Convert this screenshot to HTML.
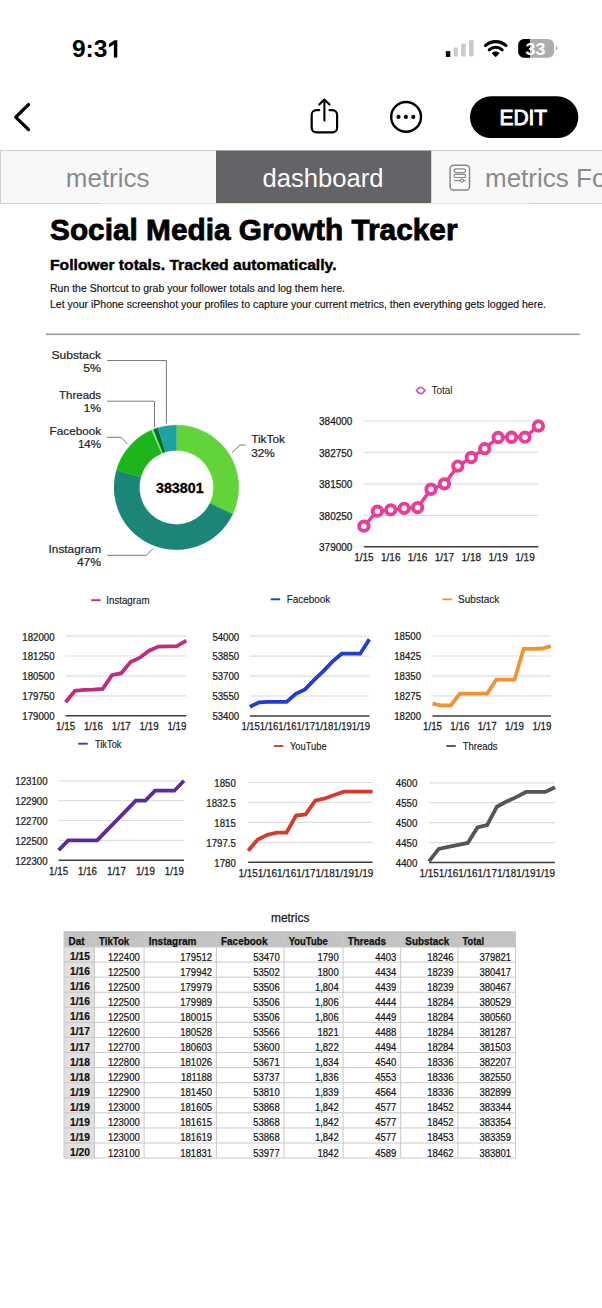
<!DOCTYPE html>
<html><head><meta charset="utf-8"><style>
html,body{margin:0;padding:0;background:#fff;width:602px;height:1308px;overflow:hidden}
svg{display:block}
text{font-family:"Liberation Sans", sans-serif}
</style></head><body>
<svg width="602" height="1308" viewBox="0 0 602 1308">
<text x="71.9" y="57.4" font-size="23.4" font-weight="bold" fill="#000" textLength="35.6" lengthAdjust="spacingAndGlyphs">9:3</text>
<path d="M113.9,57.4 V44.5 L108.9,47.5 V44.1 L114.4,40.2 H117.3 V57.4 Z" fill="#000"/>
<rect x="445.8" y="51.0" width="4.5" height="6.1" rx="1.2" fill="#000"/>
<rect x="453.6" y="47.6" width="4.3" height="8.8" rx="1.1" fill="#c9c9cb"/>
<rect x="461.2" y="43.6" width="4.5" height="12.9" rx="1.1" fill="#c9c9cb"/>
<rect x="469.0" y="40.0" width="4.6" height="16.4" rx="1.1" fill="#c9c9cb"/>
<path d="M485.40,45.56 A15.4,15.4 0 0 1 506.00,45.56 M489.21,49.79 A9.7,9.7 0 0 1 502.19,49.79" fill="none" stroke="#000" stroke-width="3.1" stroke-linecap="round"/>
<path d="M495.7,56.4 L492.64,53.23 A4.4,4.4 0 0 1 498.76,53.23 Z" fill="#000" stroke="#000" stroke-width="1.2" stroke-linejoin="round"/>
<rect x="518.2" y="39.0" width="35.9" height="18.7" rx="6" fill="#adadaf"/>
<clipPath id="bclip"><rect x="518.2" y="39.0" width="35.9" height="18.7" rx="6"/></clipPath>
<rect x="518" y="38.6" width="12.0" height="19.5" fill="#000" clip-path="url(#bclip)"/>
<path d="M555.6,46.0 a2.0,2.3 0 0 1 0,4.6 z" fill="#b9b9bb"/>
<text x="535.4" y="54.6" font-size="16.4" font-weight="bold" fill="#fff" text-anchor="middle" textLength="19.8" lengthAdjust="spacingAndGlyphs">33</text>
<polyline points="28.5,104.6 15.7,117.1 28.5,129.6" fill="none" stroke="#000" stroke-width="3.3" stroke-linecap="round" stroke-linejoin="round"/>
<path d="M319.2,110.1 H316.4 a4.7,4.7 0 0 0 -4.7,4.7 V127.7 a4.7,4.7 0 0 0 4.7,4.7 H332.4 a4.7,4.7 0 0 0 4.7,-4.7 V114.8 a4.7,4.7 0 0 0 -4.7,-4.7 H329.5" fill="none" stroke="#000" stroke-width="2.2" stroke-linecap="round"/>
<path d="M324.4,120.5 V99.6 M319.3,104.6 L324.4,99.5 L329.5,104.6" fill="none" stroke="#000" stroke-width="2.1" stroke-linecap="round" stroke-linejoin="round"/>
<circle cx="406.1" cy="116.9" r="14.9" fill="none" stroke="#000" stroke-width="2.4"/>
<circle cx="398.5" cy="116.9" r="2.05" fill="#000"/>
<circle cx="405.9" cy="116.9" r="2.05" fill="#000"/>
<circle cx="413.3" cy="116.9" r="2.05" fill="#000"/>
<rect x="470" y="96.3" width="108.3" height="41.8" rx="20.9" fill="#000"/>
<text x="523.3" y="125.4" font-size="21.4" fill="#fff" text-anchor="middle" textLength="47.8" lengthAdjust="spacingAndGlyphs" stroke="#fff" stroke-width="0.9">EDIT</text>
<rect x="0.5" y="150.5" width="602" height="53" fill="#f8f8f8" stroke="#cfcfcf" stroke-width="1"/>
<rect x="216" y="150.6" width="215.2" height="52.6" fill="#646368"/>
<text x="65.8" y="186.6" font-size="26" fill="#8a8a8e" textLength="83.7" lengthAdjust="spacingAndGlyphs">metrics</text>
<text x="262.6" y="186.6" font-size="26" fill="#fff" textLength="120.8" lengthAdjust="spacingAndGlyphs">dashboard</text>
<rect x="450.1" y="165.3" width="19.4" height="24.8" rx="3.4" fill="#fdfdfd" stroke="#88888c" stroke-width="1.5"/>
<rect x="454.1" y="168.9" width="11.4" height="3.7" rx="1.5" fill="none" stroke="#88888c" stroke-width="1.2"/>
<rect x="454.1" y="174.3" width="11.4" height="3.2" rx="1.3" fill="none" stroke="#88888c" stroke-width="1.2"/>
<path d="M453.8,180.6 H465.8" stroke="#88888c" stroke-width="1.2"/>
<circle cx="462.1" cy="180.6" r="1.5" fill="#fdfdfd" stroke="#88888c" stroke-width="1.1"/>
<text x="485" y="186.6" font-size="26" fill="#8a8a8e">metrics Fo</text>
<rect x="100" y="203" width="430" height="1.2" fill="#e4ebc4"/>
<text x="50" y="239.9" font-size="29.5" font-weight="bold" fill="#000" textLength="407.5" lengthAdjust="spacingAndGlyphs" stroke="#000" stroke-width="0.8">Social Media Growth Tracker</text>
<text x="50" y="269.8" font-size="14.6" font-weight="bold" fill="#000" textLength="286.5" lengthAdjust="spacingAndGlyphs" stroke="#000" stroke-width="0.4">Follower totals. Tracked automatically.</text>
<text x="50" y="291.9" font-size="10.4" fill="#111" textLength="295" lengthAdjust="spacingAndGlyphs" stroke="#111" stroke-width="0.15">Run the Shortcut to grab your follower totals and log them here.</text>
<text x="50" y="307.7" font-size="10.4" fill="#111" textLength="496" lengthAdjust="spacingAndGlyphs" stroke="#111" stroke-width="0.15">Let your iPhone screenshot your profiles to capture your current metrics, then everything gets logged here.</text>
<rect x="45.8" y="333.5" width="534" height="1.6" fill="#9a9a9a"/>
<path d="M176.40,425.00 A62.4,62.4 0 0 1 232.74,514.23 L209.81,503.31 A37.0,37.0 0 0 0 176.40,450.40 Z" fill="#62d43a" stroke="#62d43a" stroke-width="0.3"/>
<path d="M232.74,514.23 A62.4,62.4 0 0 1 116.42,470.18 L140.84,477.19 A37.0,37.0 0 0 0 209.81,503.31 Z" fill="#1b8577" stroke="#1b8577" stroke-width="0.3"/>
<path d="M116.42,470.18 A62.4,62.4 0 0 1 151.67,430.11 L161.74,453.43 A37.0,37.0 0 0 0 140.84,477.19 Z" fill="#1db51b" stroke="#1db51b" stroke-width="0.3"/>
<path d="M151.67,430.11 A62.4,62.4 0 0 1 153.41,429.39 L162.77,453.00 A37.0,37.0 0 0 0 161.74,453.43 Z" fill="#7df39c" stroke="#7df39c" stroke-width="0.3"/>
<path d="M153.41,429.39 A62.4,62.4 0 0 1 157.83,427.83 L165.39,452.08 A37.0,37.0 0 0 0 162.77,453.00 Z" fill="#0c6c24" stroke="#0c6c24" stroke-width="0.3"/>
<path d="M157.83,427.83 A62.4,62.4 0 0 1 176.40,425.00 L176.40,450.40 A37.0,37.0 0 0 0 165.39,452.08 Z" fill="#1ea3a1" stroke="#1ea3a1" stroke-width="0.3"/>
<text x="179.8" y="493.2" font-size="14.4" font-weight="bold" fill="#000" text-anchor="middle" textLength="47.6" lengthAdjust="spacingAndGlyphs" stroke="#000" stroke-width="0.3">383801</text>
<text x="101.1" y="358.5" font-size="11.4" fill="#222" text-anchor="end" textLength="49.5" lengthAdjust="spacingAndGlyphs" stroke="#222" stroke-width="0.2">Substack</text>
<text x="101.1" y="371.8" font-size="11.4" fill="#222" text-anchor="end" textLength="17.9" lengthAdjust="spacingAndGlyphs" stroke="#222" stroke-width="0.2">5%</text>
<text x="101.1" y="399.1" font-size="11.4" fill="#222" text-anchor="end" textLength="42" lengthAdjust="spacingAndGlyphs" stroke="#222" stroke-width="0.2">Threads</text>
<text x="101.1" y="412.4" font-size="11.4" fill="#222" text-anchor="end" textLength="17.6" lengthAdjust="spacingAndGlyphs" stroke="#222" stroke-width="0.2">1%</text>
<text x="101.1" y="434.8" font-size="11.4" fill="#222" text-anchor="end" textLength="51.5" lengthAdjust="spacingAndGlyphs" stroke="#222" stroke-width="0.2">Facebook</text>
<text x="101.1" y="448.1" font-size="11.4" fill="#222" text-anchor="end" textLength="23.2" lengthAdjust="spacingAndGlyphs" stroke="#222" stroke-width="0.2">14%</text>
<text x="101.1" y="553.3" font-size="11.4" fill="#222" text-anchor="end" textLength="52.5" lengthAdjust="spacingAndGlyphs" stroke="#222" stroke-width="0.2">Instagram</text>
<text x="101.1" y="566.0" font-size="11.4" fill="#222" text-anchor="end" textLength="24.2" lengthAdjust="spacingAndGlyphs" stroke="#222" stroke-width="0.2">47%</text>
<text x="251.2" y="443.3" font-size="11.4" fill="#222" textLength="33.7" lengthAdjust="spacingAndGlyphs" stroke="#222" stroke-width="0.2">TikTok</text>
<text x="251.2" y="456.5" font-size="11.4" fill="#222" textLength="23.6" lengthAdjust="spacingAndGlyphs" stroke="#222" stroke-width="0.2">32%</text>
<polyline points="107.2,360.5 166.4,360.5 166.4,423.5" fill="none" stroke="#7a7a7a" stroke-width="1"/>
<polyline points="107.2,401.2 154.5,401.2 154.5,427.5" fill="none" stroke="#7a7a7a" stroke-width="1"/>
<polyline points="107.2,437.3 121.2,437.3 127.4,444" fill="none" stroke="#7a7a7a" stroke-width="1"/>
<polyline points="107.2,555.3 146.5,555.3 153.2,548.4" fill="none" stroke="#7a7a7a" stroke-width="1"/>
<polyline points="232,452.6 240,445 245.6,445" fill="none" stroke="#7a7a7a" stroke-width="1"/>
<text transform="translate(352.4,551.00) scale(1.0,1)" font-size="10" fill="#1c1c1c" text-anchor="end" stroke="#1c1c1c" stroke-width="0.25">379000</text>
<line x1="363.9" y1="515.35" x2="538.4" y2="515.35" stroke="#dedede" stroke-width="1.2"/>
<text transform="translate(352.4,519.55) scale(1.0,1)" font-size="10" fill="#1c1c1c" text-anchor="end" stroke="#1c1c1c" stroke-width="0.25">380250</text>
<line x1="363.9" y1="483.90" x2="538.4" y2="483.90" stroke="#dedede" stroke-width="1.2"/>
<text transform="translate(352.4,488.10) scale(1.0,1)" font-size="10" fill="#1c1c1c" text-anchor="end" stroke="#1c1c1c" stroke-width="0.25">381500</text>
<line x1="363.9" y1="452.45" x2="538.4" y2="452.45" stroke="#dedede" stroke-width="1.2"/>
<text transform="translate(352.4,456.65) scale(1.0,1)" font-size="10" fill="#1c1c1c" text-anchor="end" stroke="#1c1c1c" stroke-width="0.25">382750</text>
<line x1="363.9" y1="421.00" x2="538.4" y2="421.00" stroke="#dedede" stroke-width="1.2"/>
<text transform="translate(352.4,425.20) scale(1.0,1)" font-size="10" fill="#1c1c1c" text-anchor="end" stroke="#1c1c1c" stroke-width="0.25">384000</text>
<line x1="363.9" y1="546.8" x2="538.4" y2="546.8" stroke="#3c3c3c" stroke-width="1.5"/>
<polyline points="363.90,526.14 377.32,511.15 390.75,509.89 404.17,508.33 417.59,507.55 431.02,489.26 444.44,483.82 457.86,466.11 471.28,457.48 484.71,448.70 498.13,437.50 511.55,437.25 524.98,437.13 538.40,426.01" fill="none" stroke="#e93d97" stroke-width="3.5" stroke-linejoin="miter" stroke-miterlimit="2"/>
<circle cx="363.90" cy="526.14" r="4.7" fill="#fff" stroke="#e93d97" stroke-width="3.9"/>
<circle cx="377.32" cy="511.15" r="4.7" fill="#fff" stroke="#e93d97" stroke-width="3.9"/>
<circle cx="390.75" cy="509.89" r="4.7" fill="#fff" stroke="#e93d97" stroke-width="3.9"/>
<circle cx="404.17" cy="508.33" r="4.7" fill="#fff" stroke="#e93d97" stroke-width="3.9"/>
<circle cx="417.59" cy="507.55" r="4.7" fill="#fff" stroke="#e93d97" stroke-width="3.9"/>
<circle cx="431.02" cy="489.26" r="4.7" fill="#fff" stroke="#e93d97" stroke-width="3.9"/>
<circle cx="444.44" cy="483.82" r="4.7" fill="#fff" stroke="#e93d97" stroke-width="3.9"/>
<circle cx="457.86" cy="466.11" r="4.7" fill="#fff" stroke="#e93d97" stroke-width="3.9"/>
<circle cx="471.28" cy="457.48" r="4.7" fill="#fff" stroke="#e93d97" stroke-width="3.9"/>
<circle cx="484.71" cy="448.70" r="4.7" fill="#fff" stroke="#e93d97" stroke-width="3.9"/>
<circle cx="498.13" cy="437.50" r="4.7" fill="#fff" stroke="#e93d97" stroke-width="3.9"/>
<circle cx="511.55" cy="437.25" r="4.7" fill="#fff" stroke="#e93d97" stroke-width="3.9"/>
<circle cx="524.98" cy="437.13" r="4.7" fill="#fff" stroke="#e93d97" stroke-width="3.9"/>
<circle cx="538.40" cy="426.01" r="4.7" fill="#fff" stroke="#e93d97" stroke-width="3.9"/>
<text transform="translate(363.90,560.6) scale(1.0,1)" font-size="10" fill="#1c1c1c" text-anchor="middle" stroke="#1c1c1c" stroke-width="0.25">1/15</text>
<text transform="translate(390.75,560.6) scale(1.0,1)" font-size="10" fill="#1c1c1c" text-anchor="middle" stroke="#1c1c1c" stroke-width="0.25">1/16</text>
<text transform="translate(417.59,560.6) scale(1.0,1)" font-size="10" fill="#1c1c1c" text-anchor="middle" stroke="#1c1c1c" stroke-width="0.25">1/16</text>
<text transform="translate(444.44,560.6) scale(1.0,1)" font-size="10" fill="#1c1c1c" text-anchor="middle" stroke="#1c1c1c" stroke-width="0.25">1/17</text>
<text transform="translate(471.28,560.6) scale(1.0,1)" font-size="10" fill="#1c1c1c" text-anchor="middle" stroke="#1c1c1c" stroke-width="0.25">1/18</text>
<text transform="translate(498.13,560.6) scale(1.0,1)" font-size="10" fill="#1c1c1c" text-anchor="middle" stroke="#1c1c1c" stroke-width="0.25">1/19</text>
<text transform="translate(524.98,560.6) scale(1.0,1)" font-size="10" fill="#1c1c1c" text-anchor="middle" stroke="#1c1c1c" stroke-width="0.25">1/19</text>
<path d="M416.4,390.5 Q420.7,384.3 425.0,390.5 Q420.7,396.7 416.4,390.5 Z" fill="#fff" stroke="#dd5aa2" stroke-width="1.9" stroke-linejoin="round"/>
<text x="431.4" y="393.9" font-size="10" fill="#222">Total</text>
<text transform="translate(54.5,720.22) scale(0.91,1)" font-size="10.6" fill="#1c1c1c" text-anchor="end" stroke="#1c1c1c" stroke-width="0.25">179000</text>
<line x1="65.6" y1="695.88" x2="186.2" y2="695.88" stroke="#dedede" stroke-width="1.2"/>
<text transform="translate(54.5,700.29) scale(0.91,1)" font-size="10.6" fill="#1c1c1c" text-anchor="end" stroke="#1c1c1c" stroke-width="0.25">179750</text>
<line x1="65.6" y1="675.95" x2="186.2" y2="675.95" stroke="#dedede" stroke-width="1.2"/>
<text transform="translate(54.5,680.37) scale(0.91,1)" font-size="10.6" fill="#1c1c1c" text-anchor="end" stroke="#1c1c1c" stroke-width="0.25">180500</text>
<line x1="65.6" y1="656.02" x2="186.2" y2="656.02" stroke="#dedede" stroke-width="1.2"/>
<text transform="translate(54.5,660.44) scale(0.91,1)" font-size="10.6" fill="#1c1c1c" text-anchor="end" stroke="#1c1c1c" stroke-width="0.25">181250</text>
<line x1="65.6" y1="636.10" x2="186.2" y2="636.10" stroke="#dedede" stroke-width="1.2"/>
<text transform="translate(54.5,640.52) scale(0.91,1)" font-size="10.6" fill="#1c1c1c" text-anchor="end" stroke="#1c1c1c" stroke-width="0.25">182000</text>
<line x1="65.6" y1="715.8" x2="186.2" y2="715.8" stroke="#3c3c3c" stroke-width="1.5"/>
<polyline points="65.60,702.20 74.88,690.77 84.15,689.79 93.43,689.53 102.71,688.83 111.98,675.21 121.26,673.21 130.54,661.98 139.82,657.67 149.09,650.71 158.37,646.59 167.65,646.33 176.92,646.22 186.20,640.59" fill="none" stroke="#c02c7e" stroke-width="3.8" stroke-linejoin="miter" stroke-miterlimit="2"/>
<text transform="translate(65.60,729.6) scale(0.92,1)" font-size="10.6" fill="#1c1c1c" text-anchor="middle" stroke="#1c1c1c" stroke-width="0.25">1/15</text>
<text transform="translate(93.43,729.6) scale(0.92,1)" font-size="10.6" fill="#1c1c1c" text-anchor="middle" stroke="#1c1c1c" stroke-width="0.25">1/16</text>
<text transform="translate(121.26,729.6) scale(0.92,1)" font-size="10.6" fill="#1c1c1c" text-anchor="middle" stroke="#1c1c1c" stroke-width="0.25">1/17</text>
<text transform="translate(149.09,729.6) scale(0.92,1)" font-size="10.6" fill="#1c1c1c" text-anchor="middle" stroke="#1c1c1c" stroke-width="0.25">1/19</text>
<text transform="translate(176.92,729.6) scale(0.92,1)" font-size="10.6" fill="#1c1c1c" text-anchor="middle" stroke="#1c1c1c" stroke-width="0.25">1/19</text>
<line x1="91.2" y1="600.2" x2="100.60000000000001" y2="600.2" stroke="#c02c7e" stroke-width="1.9"/>
<text x="106.3" y="604.0" font-size="10" fill="#1c1c1c" textLength="43.2" lengthAdjust="spacingAndGlyphs" stroke="#1c1c1c" stroke-width="0.15">Instagram</text>
<text transform="translate(239.2,720.42) scale(0.91,1)" font-size="10.6" fill="#1c1c1c" text-anchor="end" stroke="#1c1c1c" stroke-width="0.25">53400</text>
<line x1="249.8" y1="696.02" x2="369.4" y2="696.02" stroke="#dedede" stroke-width="1.2"/>
<text transform="translate(239.2,700.44) scale(0.91,1)" font-size="10.6" fill="#1c1c1c" text-anchor="end" stroke="#1c1c1c" stroke-width="0.25">53550</text>
<line x1="249.8" y1="676.05" x2="369.4" y2="676.05" stroke="#dedede" stroke-width="1.2"/>
<text transform="translate(239.2,680.47) scale(0.91,1)" font-size="10.6" fill="#1c1c1c" text-anchor="end" stroke="#1c1c1c" stroke-width="0.25">53700</text>
<line x1="249.8" y1="656.08" x2="369.4" y2="656.08" stroke="#dedede" stroke-width="1.2"/>
<text transform="translate(239.2,660.49) scale(0.91,1)" font-size="10.6" fill="#1c1c1c" text-anchor="end" stroke="#1c1c1c" stroke-width="0.25">53850</text>
<line x1="249.8" y1="636.10" x2="369.4" y2="636.10" stroke="#dedede" stroke-width="1.2"/>
<text transform="translate(239.2,640.52) scale(0.91,1)" font-size="10.6" fill="#1c1c1c" text-anchor="end" stroke="#1c1c1c" stroke-width="0.25">54000</text>
<line x1="249.8" y1="716.0" x2="369.4" y2="716.0" stroke="#3c3c3c" stroke-width="1.5"/>
<polyline points="249.80,706.68 259.00,702.42 268.20,701.88 277.40,701.88 286.60,701.88 295.80,693.89 305.00,689.37 314.20,679.91 323.40,671.12 332.60,661.40 341.80,653.68 351.00,653.68 360.20,653.68 369.40,639.16" fill="none" stroke="#1f3fd0" stroke-width="3.8" stroke-linejoin="miter" stroke-miterlimit="2"/>
<text x="241.5" y="729.6" font-size="10.6" fill="#1c1c1c" textLength="128.5" lengthAdjust="spacingAndGlyphs" stroke="#1c1c1c" stroke-width="0.25">1/151/161/161/171/181/191/19</text>
<line x1="270.8" y1="599.3" x2="280.2" y2="599.3" stroke="#1f3fd0" stroke-width="1.9"/>
<text x="286.7" y="603.4" font-size="10" fill="#1c1c1c" textLength="43.5" lengthAdjust="spacingAndGlyphs" stroke="#1c1c1c" stroke-width="0.15">Facebook</text>
<text transform="translate(421.0,720.32) scale(0.91,1)" font-size="10.6" fill="#1c1c1c" text-anchor="end" stroke="#1c1c1c" stroke-width="0.25">18200</text>
<line x1="432.5" y1="695.92" x2="551.0" y2="695.92" stroke="#dedede" stroke-width="1.2"/>
<text transform="translate(421.0,700.34) scale(0.91,1)" font-size="10.6" fill="#1c1c1c" text-anchor="end" stroke="#1c1c1c" stroke-width="0.25">18275</text>
<line x1="432.5" y1="675.95" x2="551.0" y2="675.95" stroke="#dedede" stroke-width="1.2"/>
<text transform="translate(421.0,680.37) scale(0.91,1)" font-size="10.6" fill="#1c1c1c" text-anchor="end" stroke="#1c1c1c" stroke-width="0.25">18350</text>
<line x1="432.5" y1="655.98" x2="551.0" y2="655.98" stroke="#dedede" stroke-width="1.2"/>
<text transform="translate(421.0,660.39) scale(0.91,1)" font-size="10.6" fill="#1c1c1c" text-anchor="end" stroke="#1c1c1c" stroke-width="0.25">18425</text>
<line x1="432.5" y1="636.00" x2="551.0" y2="636.00" stroke="#dedede" stroke-width="1.2"/>
<text transform="translate(421.0,640.42) scale(0.91,1)" font-size="10.6" fill="#1c1c1c" text-anchor="end" stroke="#1c1c1c" stroke-width="0.25">18500</text>
<line x1="432.5" y1="715.9" x2="551.0" y2="715.9" stroke="#3c3c3c" stroke-width="1.5"/>
<polyline points="432.50,703.65 441.62,705.51 450.73,705.51 459.85,693.53 468.96,693.53 478.08,693.53 487.19,693.53 496.31,679.68 505.42,679.68 514.54,679.68 523.65,648.78 532.77,648.78 541.88,648.52 551.00,646.12" fill="none" stroke="#ee9433" stroke-width="3.8" stroke-linejoin="miter" stroke-miterlimit="2"/>
<text transform="translate(432.50,729.6) scale(0.92,1)" font-size="10.6" fill="#1c1c1c" text-anchor="middle" stroke="#1c1c1c" stroke-width="0.25">1/15</text>
<text transform="translate(459.85,729.6) scale(0.92,1)" font-size="10.6" fill="#1c1c1c" text-anchor="middle" stroke="#1c1c1c" stroke-width="0.25">1/16</text>
<text transform="translate(487.19,729.6) scale(0.92,1)" font-size="10.6" fill="#1c1c1c" text-anchor="middle" stroke="#1c1c1c" stroke-width="0.25">1/17</text>
<text transform="translate(514.54,729.6) scale(0.92,1)" font-size="10.6" fill="#1c1c1c" text-anchor="middle" stroke="#1c1c1c" stroke-width="0.25">1/19</text>
<text transform="translate(541.88,729.6) scale(0.92,1)" font-size="10.6" fill="#1c1c1c" text-anchor="middle" stroke="#1c1c1c" stroke-width="0.25">1/19</text>
<line x1="442.4" y1="599.3" x2="451.79999999999995" y2="599.3" stroke="#ee9433" stroke-width="1.9"/>
<text x="458.0" y="603.3" font-size="10" fill="#1c1c1c" textLength="41.4" lengthAdjust="spacingAndGlyphs" stroke="#1c1c1c" stroke-width="0.15">Substack</text>
<text transform="translate(47.5,864.62) scale(0.91,1)" font-size="10.6" fill="#1c1c1c" text-anchor="end" stroke="#1c1c1c" stroke-width="0.25">122300</text>
<line x1="58.6" y1="840.35" x2="184.0" y2="840.35" stroke="#dedede" stroke-width="1.2"/>
<text transform="translate(47.5,844.77) scale(0.91,1)" font-size="10.6" fill="#1c1c1c" text-anchor="end" stroke="#1c1c1c" stroke-width="0.25">122500</text>
<line x1="58.6" y1="820.50" x2="184.0" y2="820.50" stroke="#dedede" stroke-width="1.2"/>
<text transform="translate(47.5,824.92) scale(0.91,1)" font-size="10.6" fill="#1c1c1c" text-anchor="end" stroke="#1c1c1c" stroke-width="0.25">122700</text>
<line x1="58.6" y1="800.65" x2="184.0" y2="800.65" stroke="#dedede" stroke-width="1.2"/>
<text transform="translate(47.5,805.07) scale(0.91,1)" font-size="10.6" fill="#1c1c1c" text-anchor="end" stroke="#1c1c1c" stroke-width="0.25">122900</text>
<line x1="58.6" y1="780.80" x2="184.0" y2="780.80" stroke="#dedede" stroke-width="1.2"/>
<text transform="translate(47.5,785.22) scale(0.91,1)" font-size="10.6" fill="#1c1c1c" text-anchor="end" stroke="#1c1c1c" stroke-width="0.25">123100</text>
<line x1="58.6" y1="860.2" x2="184.0" y2="860.2" stroke="#3c3c3c" stroke-width="1.5"/>
<polyline points="58.60,850.28 68.25,840.35 77.89,840.35 87.54,840.35 97.18,840.35 106.83,830.42 116.48,820.50 126.12,810.58 135.77,800.65 145.42,800.65 155.06,790.72 164.71,790.72 174.35,790.72 184.00,780.80" fill="none" stroke="#5a2aa0" stroke-width="3.8" stroke-linejoin="miter" stroke-miterlimit="2"/>
<text transform="translate(58.60,874.6) scale(0.92,1)" font-size="10.6" fill="#1c1c1c" text-anchor="middle" stroke="#1c1c1c" stroke-width="0.25">1/15</text>
<text transform="translate(87.54,874.6) scale(0.92,1)" font-size="10.6" fill="#1c1c1c" text-anchor="middle" stroke="#1c1c1c" stroke-width="0.25">1/16</text>
<text transform="translate(116.48,874.6) scale(0.92,1)" font-size="10.6" fill="#1c1c1c" text-anchor="middle" stroke="#1c1c1c" stroke-width="0.25">1/17</text>
<text transform="translate(145.42,874.6) scale(0.92,1)" font-size="10.6" fill="#1c1c1c" text-anchor="middle" stroke="#1c1c1c" stroke-width="0.25">1/19</text>
<text transform="translate(174.35,874.6) scale(0.92,1)" font-size="10.6" fill="#1c1c1c" text-anchor="middle" stroke="#1c1c1c" stroke-width="0.25">1/19</text>
<line x1="78.3" y1="743.7" x2="87.7" y2="743.7" stroke="#5a2aa0" stroke-width="1.9"/>
<text x="94.9" y="747.7" font-size="10" fill="#1c1c1c" textLength="26.6" lengthAdjust="spacingAndGlyphs" stroke="#1c1c1c" stroke-width="0.15">TikTok</text>
<text transform="translate(235.8,866.62) scale(0.91,1)" font-size="10.6" fill="#1c1c1c" text-anchor="end" stroke="#1c1c1c" stroke-width="0.25">1780</text>
<line x1="248.2" y1="842.28" x2="372.6" y2="842.28" stroke="#dedede" stroke-width="1.2"/>
<text transform="translate(235.8,846.69) scale(0.91,1)" font-size="10.6" fill="#1c1c1c" text-anchor="end" stroke="#1c1c1c" stroke-width="0.25">1797.5</text>
<line x1="248.2" y1="822.35" x2="372.6" y2="822.35" stroke="#dedede" stroke-width="1.2"/>
<text transform="translate(235.8,826.77) scale(0.91,1)" font-size="10.6" fill="#1c1c1c" text-anchor="end" stroke="#1c1c1c" stroke-width="0.25">1815</text>
<line x1="248.2" y1="802.42" x2="372.6" y2="802.42" stroke="#dedede" stroke-width="1.2"/>
<text transform="translate(235.8,806.84) scale(0.91,1)" font-size="10.6" fill="#1c1c1c" text-anchor="end" stroke="#1c1c1c" stroke-width="0.25">1832.5</text>
<line x1="248.2" y1="782.50" x2="372.6" y2="782.50" stroke="#dedede" stroke-width="1.2"/>
<text transform="translate(235.8,786.92) scale(0.91,1)" font-size="10.6" fill="#1c1c1c" text-anchor="end" stroke="#1c1c1c" stroke-width="0.25">1850</text>
<line x1="248.2" y1="862.2" x2="372.6" y2="862.2" stroke="#3c3c3c" stroke-width="1.5"/>
<polyline points="248.20,850.81 257.77,839.43 267.34,834.87 276.91,832.60 286.48,832.60 296.05,815.52 305.62,814.38 315.18,800.72 324.75,798.44 334.32,795.02 343.89,791.61 353.46,791.61 363.03,791.61 372.60,791.61" fill="none" stroke="#d63a2a" stroke-width="3.8" stroke-linejoin="miter" stroke-miterlimit="2"/>
<text x="238.4" y="876.9" font-size="10.6" fill="#1c1c1c" textLength="135.0" lengthAdjust="spacingAndGlyphs" stroke="#1c1c1c" stroke-width="0.25">1/151/161/161/171/181/191/19</text>
<line x1="273.9" y1="746.0" x2="283.29999999999995" y2="746.0" stroke="#d63a2a" stroke-width="1.9"/>
<text x="290.0" y="749.5" font-size="10" fill="#1c1c1c" textLength="36.6" lengthAdjust="spacingAndGlyphs" stroke="#1c1c1c" stroke-width="0.15">YouTube</text>
<text transform="translate(417.3,866.92) scale(0.91,1)" font-size="10.6" fill="#1c1c1c" text-anchor="end" stroke="#1c1c1c" stroke-width="0.25">4400</text>
<line x1="429.0" y1="842.58" x2="555.0" y2="842.58" stroke="#dedede" stroke-width="1.2"/>
<text transform="translate(417.3,846.99) scale(0.91,1)" font-size="10.6" fill="#1c1c1c" text-anchor="end" stroke="#1c1c1c" stroke-width="0.25">4450</text>
<line x1="429.0" y1="822.65" x2="555.0" y2="822.65" stroke="#dedede" stroke-width="1.2"/>
<text transform="translate(417.3,827.07) scale(0.91,1)" font-size="10.6" fill="#1c1c1c" text-anchor="end" stroke="#1c1c1c" stroke-width="0.25">4500</text>
<line x1="429.0" y1="802.72" x2="555.0" y2="802.72" stroke="#dedede" stroke-width="1.2"/>
<text transform="translate(417.3,807.14) scale(0.91,1)" font-size="10.6" fill="#1c1c1c" text-anchor="end" stroke="#1c1c1c" stroke-width="0.25">4550</text>
<line x1="429.0" y1="782.80" x2="555.0" y2="782.80" stroke="#dedede" stroke-width="1.2"/>
<text transform="translate(417.3,787.22) scale(0.91,1)" font-size="10.6" fill="#1c1c1c" text-anchor="end" stroke="#1c1c1c" stroke-width="0.25">4600</text>
<line x1="429.0" y1="862.5" x2="555.0" y2="862.5" stroke="#3c3c3c" stroke-width="1.5"/>
<polyline points="429.00,861.30 438.69,848.95 448.38,846.96 458.08,844.97 467.77,842.97 477.46,827.43 487.15,825.04 496.85,806.71 506.54,801.53 516.23,797.15 525.92,791.97 535.62,791.97 545.31,791.97 555.00,787.18" fill="none" stroke="#555559" stroke-width="3.8" stroke-linejoin="miter" stroke-miterlimit="2"/>
<text x="419.5" y="877.0" font-size="10.6" fill="#1c1c1c" textLength="135.5" lengthAdjust="spacingAndGlyphs" stroke="#1c1c1c" stroke-width="0.25">1/151/161/161/171/181/191/19</text>
<line x1="446.4" y1="746.0" x2="455.79999999999995" y2="746.0" stroke="#555559" stroke-width="1.9"/>
<text x="462.7" y="749.5" font-size="10" fill="#1c1c1c" textLength="34.7" lengthAdjust="spacingAndGlyphs" stroke="#1c1c1c" stroke-width="0.15">Threads</text>
<text x="290.2" y="921.5" font-size="12" fill="#1a1a1a" text-anchor="middle" textLength="38.5" lengthAdjust="spacingAndGlyphs" stroke="#1a1a1a" stroke-width="0.25">metrics</text>
<rect x="64.0" y="931.2" width="451.5" height="15.799999999999955" fill="#c3c3c3"/>
<rect x="64.0" y="947.0" width="30.400000000000006" height="211.0999999999999" fill="#e0e0e0"/>
<line x1="64.0" y1="947.00" x2="515.5" y2="947.00" stroke="#c9c9c9" stroke-width="1"/>
<line x1="64.0" y1="962.08" x2="515.5" y2="962.08" stroke="#c9c9c9" stroke-width="1"/>
<line x1="64.0" y1="977.16" x2="515.5" y2="977.16" stroke="#c9c9c9" stroke-width="1"/>
<line x1="64.0" y1="992.24" x2="515.5" y2="992.24" stroke="#c9c9c9" stroke-width="1"/>
<line x1="64.0" y1="1007.31" x2="515.5" y2="1007.31" stroke="#c9c9c9" stroke-width="1"/>
<line x1="64.0" y1="1022.39" x2="515.5" y2="1022.39" stroke="#c9c9c9" stroke-width="1"/>
<line x1="64.0" y1="1037.47" x2="515.5" y2="1037.47" stroke="#c9c9c9" stroke-width="1"/>
<line x1="64.0" y1="1052.55" x2="515.5" y2="1052.55" stroke="#c9c9c9" stroke-width="1"/>
<line x1="64.0" y1="1067.63" x2="515.5" y2="1067.63" stroke="#c9c9c9" stroke-width="1"/>
<line x1="64.0" y1="1082.71" x2="515.5" y2="1082.71" stroke="#c9c9c9" stroke-width="1"/>
<line x1="64.0" y1="1097.79" x2="515.5" y2="1097.79" stroke="#c9c9c9" stroke-width="1"/>
<line x1="64.0" y1="1112.86" x2="515.5" y2="1112.86" stroke="#c9c9c9" stroke-width="1"/>
<line x1="64.0" y1="1127.94" x2="515.5" y2="1127.94" stroke="#c9c9c9" stroke-width="1"/>
<line x1="64.0" y1="1143.02" x2="515.5" y2="1143.02" stroke="#c9c9c9" stroke-width="1"/>
<line x1="64.0" y1="1158.10" x2="515.5" y2="1158.10" stroke="#c9c9c9" stroke-width="1"/>
<line x1="64.0" y1="931.2" x2="64.0" y2="1158.1" stroke="#c9c9c9" stroke-width="1"/>
<line x1="94.4" y1="931.2" x2="94.4" y2="1158.1" stroke="#c9c9c9" stroke-width="1"/>
<line x1="144.1" y1="931.2" x2="144.1" y2="1158.1" stroke="#c9c9c9" stroke-width="1"/>
<line x1="216.4" y1="931.2" x2="216.4" y2="1158.1" stroke="#c9c9c9" stroke-width="1"/>
<line x1="284.1" y1="931.2" x2="284.1" y2="1158.1" stroke="#c9c9c9" stroke-width="1"/>
<line x1="343.1" y1="931.2" x2="343.1" y2="1158.1" stroke="#c9c9c9" stroke-width="1"/>
<line x1="400.7" y1="931.2" x2="400.7" y2="1158.1" stroke="#c9c9c9" stroke-width="1"/>
<line x1="458.0" y1="931.2" x2="458.0" y2="1158.1" stroke="#c9c9c9" stroke-width="1"/>
<line x1="515.5" y1="931.2" x2="515.5" y2="1158.1" stroke="#c9c9c9" stroke-width="1"/>
<text x="68.6" y="945.2" font-size="10.2" font-weight="bold" fill="#111" textLength="16" lengthAdjust="spacingAndGlyphs" stroke="#111" stroke-width="0.25">Dat</text>
<text x="99.0" y="945.2" font-size="10.2" font-weight="bold" fill="#111" textLength="30.2" lengthAdjust="spacingAndGlyphs" stroke="#111" stroke-width="0.25">TikTok</text>
<text x="148.7" y="945.2" font-size="10.2" font-weight="bold" fill="#111" textLength="47.8" lengthAdjust="spacingAndGlyphs" stroke="#111" stroke-width="0.25">Instagram</text>
<text x="221.0" y="945.2" font-size="10.2" font-weight="bold" fill="#111" textLength="46.5" lengthAdjust="spacingAndGlyphs" stroke="#111" stroke-width="0.25">Facebook</text>
<text x="288.70000000000005" y="945.2" font-size="10.2" font-weight="bold" fill="#111" textLength="39" lengthAdjust="spacingAndGlyphs" stroke="#111" stroke-width="0.25">YouTube</text>
<text x="347.70000000000005" y="945.2" font-size="10.2" font-weight="bold" fill="#111" textLength="38.2" lengthAdjust="spacingAndGlyphs" stroke="#111" stroke-width="0.25">Threads</text>
<text x="405.3" y="945.2" font-size="10.2" font-weight="bold" fill="#111" textLength="44" lengthAdjust="spacingAndGlyphs" stroke="#111" stroke-width="0.25">Substack</text>
<text x="462.6" y="945.2" font-size="10.2" font-weight="bold" fill="#111" textLength="21.4" lengthAdjust="spacingAndGlyphs" stroke="#111" stroke-width="0.25">Total</text>
<text x="70.1" y="960.10" font-size="10.3" font-weight="bold" fill="#111" textLength="19.9" lengthAdjust="spacingAndGlyphs" stroke="#111" stroke-width="0.2">1/15</text>
<text transform="translate(139.7,960.50) scale(0.89,1)" font-size="10.7" fill="#111" text-anchor="end" stroke="#111" stroke-width="0.2">122400</text>
<text transform="translate(212.0,960.50) scale(0.89,1)" font-size="10.7" fill="#111" text-anchor="end" stroke="#111" stroke-width="0.2">179512</text>
<text transform="translate(279.70000000000005,960.50) scale(0.89,1)" font-size="10.7" fill="#111" text-anchor="end" stroke="#111" stroke-width="0.2">53470</text>
<text transform="translate(338.70000000000005,960.50) scale(0.89,1)" font-size="10.7" fill="#111" text-anchor="end" stroke="#111" stroke-width="0.2">1790</text>
<text transform="translate(396.3,960.50) scale(0.89,1)" font-size="10.7" fill="#111" text-anchor="end" stroke="#111" stroke-width="0.2">4403</text>
<text transform="translate(453.6,960.50) scale(0.89,1)" font-size="10.7" fill="#111" text-anchor="end" stroke="#111" stroke-width="0.2">18246</text>
<text transform="translate(511.1,960.50) scale(0.89,1)" font-size="10.7" fill="#111" text-anchor="end" stroke="#111" stroke-width="0.2">379821</text>
<text x="70.1" y="975.18" font-size="10.3" font-weight="bold" fill="#111" textLength="19.9" lengthAdjust="spacingAndGlyphs" stroke="#111" stroke-width="0.2">1/16</text>
<text transform="translate(139.7,975.58) scale(0.89,1)" font-size="10.7" fill="#111" text-anchor="end" stroke="#111" stroke-width="0.2">122500</text>
<text transform="translate(212.0,975.58) scale(0.89,1)" font-size="10.7" fill="#111" text-anchor="end" stroke="#111" stroke-width="0.2">179942</text>
<text transform="translate(279.70000000000005,975.58) scale(0.89,1)" font-size="10.7" fill="#111" text-anchor="end" stroke="#111" stroke-width="0.2">53502</text>
<text transform="translate(338.70000000000005,975.58) scale(0.89,1)" font-size="10.7" fill="#111" text-anchor="end" stroke="#111" stroke-width="0.2">1800</text>
<text transform="translate(396.3,975.58) scale(0.89,1)" font-size="10.7" fill="#111" text-anchor="end" stroke="#111" stroke-width="0.2">4434</text>
<text transform="translate(453.6,975.58) scale(0.89,1)" font-size="10.7" fill="#111" text-anchor="end" stroke="#111" stroke-width="0.2">18239</text>
<text transform="translate(511.1,975.58) scale(0.89,1)" font-size="10.7" fill="#111" text-anchor="end" stroke="#111" stroke-width="0.2">380417</text>
<text x="70.1" y="990.26" font-size="10.3" font-weight="bold" fill="#111" textLength="19.9" lengthAdjust="spacingAndGlyphs" stroke="#111" stroke-width="0.2">1/16</text>
<text transform="translate(139.7,990.66) scale(0.89,1)" font-size="10.7" fill="#111" text-anchor="end" stroke="#111" stroke-width="0.2">122500</text>
<text transform="translate(212.0,990.66) scale(0.89,1)" font-size="10.7" fill="#111" text-anchor="end" stroke="#111" stroke-width="0.2">179979</text>
<text transform="translate(279.70000000000005,990.66) scale(0.89,1)" font-size="10.7" fill="#111" text-anchor="end" stroke="#111" stroke-width="0.2">53506</text>
<text transform="translate(338.70000000000005,990.66) scale(0.89,1)" font-size="10.7" fill="#111" text-anchor="end" stroke="#111" stroke-width="0.2">1,804</text>
<text transform="translate(396.3,990.66) scale(0.89,1)" font-size="10.7" fill="#111" text-anchor="end" stroke="#111" stroke-width="0.2">4439</text>
<text transform="translate(453.6,990.66) scale(0.89,1)" font-size="10.7" fill="#111" text-anchor="end" stroke="#111" stroke-width="0.2">18239</text>
<text transform="translate(511.1,990.66) scale(0.89,1)" font-size="10.7" fill="#111" text-anchor="end" stroke="#111" stroke-width="0.2">380467</text>
<text x="70.1" y="1005.34" font-size="10.3" font-weight="bold" fill="#111" textLength="19.9" lengthAdjust="spacingAndGlyphs" stroke="#111" stroke-width="0.2">1/16</text>
<text transform="translate(139.7,1005.74) scale(0.89,1)" font-size="10.7" fill="#111" text-anchor="end" stroke="#111" stroke-width="0.2">122500</text>
<text transform="translate(212.0,1005.74) scale(0.89,1)" font-size="10.7" fill="#111" text-anchor="end" stroke="#111" stroke-width="0.2">179989</text>
<text transform="translate(279.70000000000005,1005.74) scale(0.89,1)" font-size="10.7" fill="#111" text-anchor="end" stroke="#111" stroke-width="0.2">53506</text>
<text transform="translate(338.70000000000005,1005.74) scale(0.89,1)" font-size="10.7" fill="#111" text-anchor="end" stroke="#111" stroke-width="0.2">1,806</text>
<text transform="translate(396.3,1005.74) scale(0.89,1)" font-size="10.7" fill="#111" text-anchor="end" stroke="#111" stroke-width="0.2">4444</text>
<text transform="translate(453.6,1005.74) scale(0.89,1)" font-size="10.7" fill="#111" text-anchor="end" stroke="#111" stroke-width="0.2">18284</text>
<text transform="translate(511.1,1005.74) scale(0.89,1)" font-size="10.7" fill="#111" text-anchor="end" stroke="#111" stroke-width="0.2">380529</text>
<text x="70.1" y="1020.41" font-size="10.3" font-weight="bold" fill="#111" textLength="19.9" lengthAdjust="spacingAndGlyphs" stroke="#111" stroke-width="0.2">1/16</text>
<text transform="translate(139.7,1020.81) scale(0.89,1)" font-size="10.7" fill="#111" text-anchor="end" stroke="#111" stroke-width="0.2">122500</text>
<text transform="translate(212.0,1020.81) scale(0.89,1)" font-size="10.7" fill="#111" text-anchor="end" stroke="#111" stroke-width="0.2">180015</text>
<text transform="translate(279.70000000000005,1020.81) scale(0.89,1)" font-size="10.7" fill="#111" text-anchor="end" stroke="#111" stroke-width="0.2">53506</text>
<text transform="translate(338.70000000000005,1020.81) scale(0.89,1)" font-size="10.7" fill="#111" text-anchor="end" stroke="#111" stroke-width="0.2">1,806</text>
<text transform="translate(396.3,1020.81) scale(0.89,1)" font-size="10.7" fill="#111" text-anchor="end" stroke="#111" stroke-width="0.2">4449</text>
<text transform="translate(453.6,1020.81) scale(0.89,1)" font-size="10.7" fill="#111" text-anchor="end" stroke="#111" stroke-width="0.2">18284</text>
<text transform="translate(511.1,1020.81) scale(0.89,1)" font-size="10.7" fill="#111" text-anchor="end" stroke="#111" stroke-width="0.2">380560</text>
<text x="70.1" y="1035.49" font-size="10.3" font-weight="bold" fill="#111" textLength="19.9" lengthAdjust="spacingAndGlyphs" stroke="#111" stroke-width="0.2">1/17</text>
<text transform="translate(139.7,1035.89) scale(0.89,1)" font-size="10.7" fill="#111" text-anchor="end" stroke="#111" stroke-width="0.2">122600</text>
<text transform="translate(212.0,1035.89) scale(0.89,1)" font-size="10.7" fill="#111" text-anchor="end" stroke="#111" stroke-width="0.2">180528</text>
<text transform="translate(279.70000000000005,1035.89) scale(0.89,1)" font-size="10.7" fill="#111" text-anchor="end" stroke="#111" stroke-width="0.2">53566</text>
<text transform="translate(338.70000000000005,1035.89) scale(0.89,1)" font-size="10.7" fill="#111" text-anchor="end" stroke="#111" stroke-width="0.2">1821</text>
<text transform="translate(396.3,1035.89) scale(0.89,1)" font-size="10.7" fill="#111" text-anchor="end" stroke="#111" stroke-width="0.2">4488</text>
<text transform="translate(453.6,1035.89) scale(0.89,1)" font-size="10.7" fill="#111" text-anchor="end" stroke="#111" stroke-width="0.2">18284</text>
<text transform="translate(511.1,1035.89) scale(0.89,1)" font-size="10.7" fill="#111" text-anchor="end" stroke="#111" stroke-width="0.2">381287</text>
<text x="70.1" y="1050.57" font-size="10.3" font-weight="bold" fill="#111" textLength="19.9" lengthAdjust="spacingAndGlyphs" stroke="#111" stroke-width="0.2">1/17</text>
<text transform="translate(139.7,1050.97) scale(0.89,1)" font-size="10.7" fill="#111" text-anchor="end" stroke="#111" stroke-width="0.2">122700</text>
<text transform="translate(212.0,1050.97) scale(0.89,1)" font-size="10.7" fill="#111" text-anchor="end" stroke="#111" stroke-width="0.2">180603</text>
<text transform="translate(279.70000000000005,1050.97) scale(0.89,1)" font-size="10.7" fill="#111" text-anchor="end" stroke="#111" stroke-width="0.2">53600</text>
<text transform="translate(338.70000000000005,1050.97) scale(0.89,1)" font-size="10.7" fill="#111" text-anchor="end" stroke="#111" stroke-width="0.2">1,822</text>
<text transform="translate(396.3,1050.97) scale(0.89,1)" font-size="10.7" fill="#111" text-anchor="end" stroke="#111" stroke-width="0.2">4494</text>
<text transform="translate(453.6,1050.97) scale(0.89,1)" font-size="10.7" fill="#111" text-anchor="end" stroke="#111" stroke-width="0.2">18284</text>
<text transform="translate(511.1,1050.97) scale(0.89,1)" font-size="10.7" fill="#111" text-anchor="end" stroke="#111" stroke-width="0.2">381503</text>
<text x="70.1" y="1065.65" font-size="10.3" font-weight="bold" fill="#111" textLength="19.9" lengthAdjust="spacingAndGlyphs" stroke="#111" stroke-width="0.2">1/18</text>
<text transform="translate(139.7,1066.05) scale(0.89,1)" font-size="10.7" fill="#111" text-anchor="end" stroke="#111" stroke-width="0.2">122800</text>
<text transform="translate(212.0,1066.05) scale(0.89,1)" font-size="10.7" fill="#111" text-anchor="end" stroke="#111" stroke-width="0.2">181026</text>
<text transform="translate(279.70000000000005,1066.05) scale(0.89,1)" font-size="10.7" fill="#111" text-anchor="end" stroke="#111" stroke-width="0.2">53671</text>
<text transform="translate(338.70000000000005,1066.05) scale(0.89,1)" font-size="10.7" fill="#111" text-anchor="end" stroke="#111" stroke-width="0.2">1,834</text>
<text transform="translate(396.3,1066.05) scale(0.89,1)" font-size="10.7" fill="#111" text-anchor="end" stroke="#111" stroke-width="0.2">4540</text>
<text transform="translate(453.6,1066.05) scale(0.89,1)" font-size="10.7" fill="#111" text-anchor="end" stroke="#111" stroke-width="0.2">18336</text>
<text transform="translate(511.1,1066.05) scale(0.89,1)" font-size="10.7" fill="#111" text-anchor="end" stroke="#111" stroke-width="0.2">382207</text>
<text x="70.1" y="1080.73" font-size="10.3" font-weight="bold" fill="#111" textLength="19.9" lengthAdjust="spacingAndGlyphs" stroke="#111" stroke-width="0.2">1/18</text>
<text transform="translate(139.7,1081.13) scale(0.89,1)" font-size="10.7" fill="#111" text-anchor="end" stroke="#111" stroke-width="0.2">122900</text>
<text transform="translate(212.0,1081.13) scale(0.89,1)" font-size="10.7" fill="#111" text-anchor="end" stroke="#111" stroke-width="0.2">181188</text>
<text transform="translate(279.70000000000005,1081.13) scale(0.89,1)" font-size="10.7" fill="#111" text-anchor="end" stroke="#111" stroke-width="0.2">53737</text>
<text transform="translate(338.70000000000005,1081.13) scale(0.89,1)" font-size="10.7" fill="#111" text-anchor="end" stroke="#111" stroke-width="0.2">1,836</text>
<text transform="translate(396.3,1081.13) scale(0.89,1)" font-size="10.7" fill="#111" text-anchor="end" stroke="#111" stroke-width="0.2">4553</text>
<text transform="translate(453.6,1081.13) scale(0.89,1)" font-size="10.7" fill="#111" text-anchor="end" stroke="#111" stroke-width="0.2">18336</text>
<text transform="translate(511.1,1081.13) scale(0.89,1)" font-size="10.7" fill="#111" text-anchor="end" stroke="#111" stroke-width="0.2">382550</text>
<text x="70.1" y="1095.81" font-size="10.3" font-weight="bold" fill="#111" textLength="19.9" lengthAdjust="spacingAndGlyphs" stroke="#111" stroke-width="0.2">1/19</text>
<text transform="translate(139.7,1096.21) scale(0.89,1)" font-size="10.7" fill="#111" text-anchor="end" stroke="#111" stroke-width="0.2">122900</text>
<text transform="translate(212.0,1096.21) scale(0.89,1)" font-size="10.7" fill="#111" text-anchor="end" stroke="#111" stroke-width="0.2">181450</text>
<text transform="translate(279.70000000000005,1096.21) scale(0.89,1)" font-size="10.7" fill="#111" text-anchor="end" stroke="#111" stroke-width="0.2">53810</text>
<text transform="translate(338.70000000000005,1096.21) scale(0.89,1)" font-size="10.7" fill="#111" text-anchor="end" stroke="#111" stroke-width="0.2">1,839</text>
<text transform="translate(396.3,1096.21) scale(0.89,1)" font-size="10.7" fill="#111" text-anchor="end" stroke="#111" stroke-width="0.2">4564</text>
<text transform="translate(453.6,1096.21) scale(0.89,1)" font-size="10.7" fill="#111" text-anchor="end" stroke="#111" stroke-width="0.2">18336</text>
<text transform="translate(511.1,1096.21) scale(0.89,1)" font-size="10.7" fill="#111" text-anchor="end" stroke="#111" stroke-width="0.2">382899</text>
<text x="70.1" y="1110.89" font-size="10.3" font-weight="bold" fill="#111" textLength="19.9" lengthAdjust="spacingAndGlyphs" stroke="#111" stroke-width="0.2">1/19</text>
<text transform="translate(139.7,1111.29) scale(0.89,1)" font-size="10.7" fill="#111" text-anchor="end" stroke="#111" stroke-width="0.2">123000</text>
<text transform="translate(212.0,1111.29) scale(0.89,1)" font-size="10.7" fill="#111" text-anchor="end" stroke="#111" stroke-width="0.2">181605</text>
<text transform="translate(279.70000000000005,1111.29) scale(0.89,1)" font-size="10.7" fill="#111" text-anchor="end" stroke="#111" stroke-width="0.2">53868</text>
<text transform="translate(338.70000000000005,1111.29) scale(0.89,1)" font-size="10.7" fill="#111" text-anchor="end" stroke="#111" stroke-width="0.2">1,842</text>
<text transform="translate(396.3,1111.29) scale(0.89,1)" font-size="10.7" fill="#111" text-anchor="end" stroke="#111" stroke-width="0.2">4577</text>
<text transform="translate(453.6,1111.29) scale(0.89,1)" font-size="10.7" fill="#111" text-anchor="end" stroke="#111" stroke-width="0.2">18452</text>
<text transform="translate(511.1,1111.29) scale(0.89,1)" font-size="10.7" fill="#111" text-anchor="end" stroke="#111" stroke-width="0.2">383344</text>
<text x="70.1" y="1125.96" font-size="10.3" font-weight="bold" fill="#111" textLength="19.9" lengthAdjust="spacingAndGlyphs" stroke="#111" stroke-width="0.2">1/19</text>
<text transform="translate(139.7,1126.36) scale(0.89,1)" font-size="10.7" fill="#111" text-anchor="end" stroke="#111" stroke-width="0.2">123000</text>
<text transform="translate(212.0,1126.36) scale(0.89,1)" font-size="10.7" fill="#111" text-anchor="end" stroke="#111" stroke-width="0.2">181615</text>
<text transform="translate(279.70000000000005,1126.36) scale(0.89,1)" font-size="10.7" fill="#111" text-anchor="end" stroke="#111" stroke-width="0.2">53868</text>
<text transform="translate(338.70000000000005,1126.36) scale(0.89,1)" font-size="10.7" fill="#111" text-anchor="end" stroke="#111" stroke-width="0.2">1,842</text>
<text transform="translate(396.3,1126.36) scale(0.89,1)" font-size="10.7" fill="#111" text-anchor="end" stroke="#111" stroke-width="0.2">4577</text>
<text transform="translate(453.6,1126.36) scale(0.89,1)" font-size="10.7" fill="#111" text-anchor="end" stroke="#111" stroke-width="0.2">18452</text>
<text transform="translate(511.1,1126.36) scale(0.89,1)" font-size="10.7" fill="#111" text-anchor="end" stroke="#111" stroke-width="0.2">383354</text>
<text x="70.1" y="1141.04" font-size="10.3" font-weight="bold" fill="#111" textLength="19.9" lengthAdjust="spacingAndGlyphs" stroke="#111" stroke-width="0.2">1/19</text>
<text transform="translate(139.7,1141.44) scale(0.89,1)" font-size="10.7" fill="#111" text-anchor="end" stroke="#111" stroke-width="0.2">123000</text>
<text transform="translate(212.0,1141.44) scale(0.89,1)" font-size="10.7" fill="#111" text-anchor="end" stroke="#111" stroke-width="0.2">181619</text>
<text transform="translate(279.70000000000005,1141.44) scale(0.89,1)" font-size="10.7" fill="#111" text-anchor="end" stroke="#111" stroke-width="0.2">53868</text>
<text transform="translate(338.70000000000005,1141.44) scale(0.89,1)" font-size="10.7" fill="#111" text-anchor="end" stroke="#111" stroke-width="0.2">1,842</text>
<text transform="translate(396.3,1141.44) scale(0.89,1)" font-size="10.7" fill="#111" text-anchor="end" stroke="#111" stroke-width="0.2">4577</text>
<text transform="translate(453.6,1141.44) scale(0.89,1)" font-size="10.7" fill="#111" text-anchor="end" stroke="#111" stroke-width="0.2">18453</text>
<text transform="translate(511.1,1141.44) scale(0.89,1)" font-size="10.7" fill="#111" text-anchor="end" stroke="#111" stroke-width="0.2">383359</text>
<text x="70.1" y="1156.12" font-size="10.3" font-weight="bold" fill="#111" textLength="19.9" lengthAdjust="spacingAndGlyphs" stroke="#111" stroke-width="0.2">1/20</text>
<text transform="translate(139.7,1156.52) scale(0.89,1)" font-size="10.7" fill="#111" text-anchor="end" stroke="#111" stroke-width="0.2">123100</text>
<text transform="translate(212.0,1156.52) scale(0.89,1)" font-size="10.7" fill="#111" text-anchor="end" stroke="#111" stroke-width="0.2">181831</text>
<text transform="translate(279.70000000000005,1156.52) scale(0.89,1)" font-size="10.7" fill="#111" text-anchor="end" stroke="#111" stroke-width="0.2">53977</text>
<text transform="translate(338.70000000000005,1156.52) scale(0.89,1)" font-size="10.7" fill="#111" text-anchor="end" stroke="#111" stroke-width="0.2">1842</text>
<text transform="translate(396.3,1156.52) scale(0.89,1)" font-size="10.7" fill="#111" text-anchor="end" stroke="#111" stroke-width="0.2">4589</text>
<text transform="translate(453.6,1156.52) scale(0.89,1)" font-size="10.7" fill="#111" text-anchor="end" stroke="#111" stroke-width="0.2">18462</text>
<text transform="translate(511.1,1156.52) scale(0.89,1)" font-size="10.7" fill="#111" text-anchor="end" stroke="#111" stroke-width="0.2">383801</text>
</svg>
</body></html>
